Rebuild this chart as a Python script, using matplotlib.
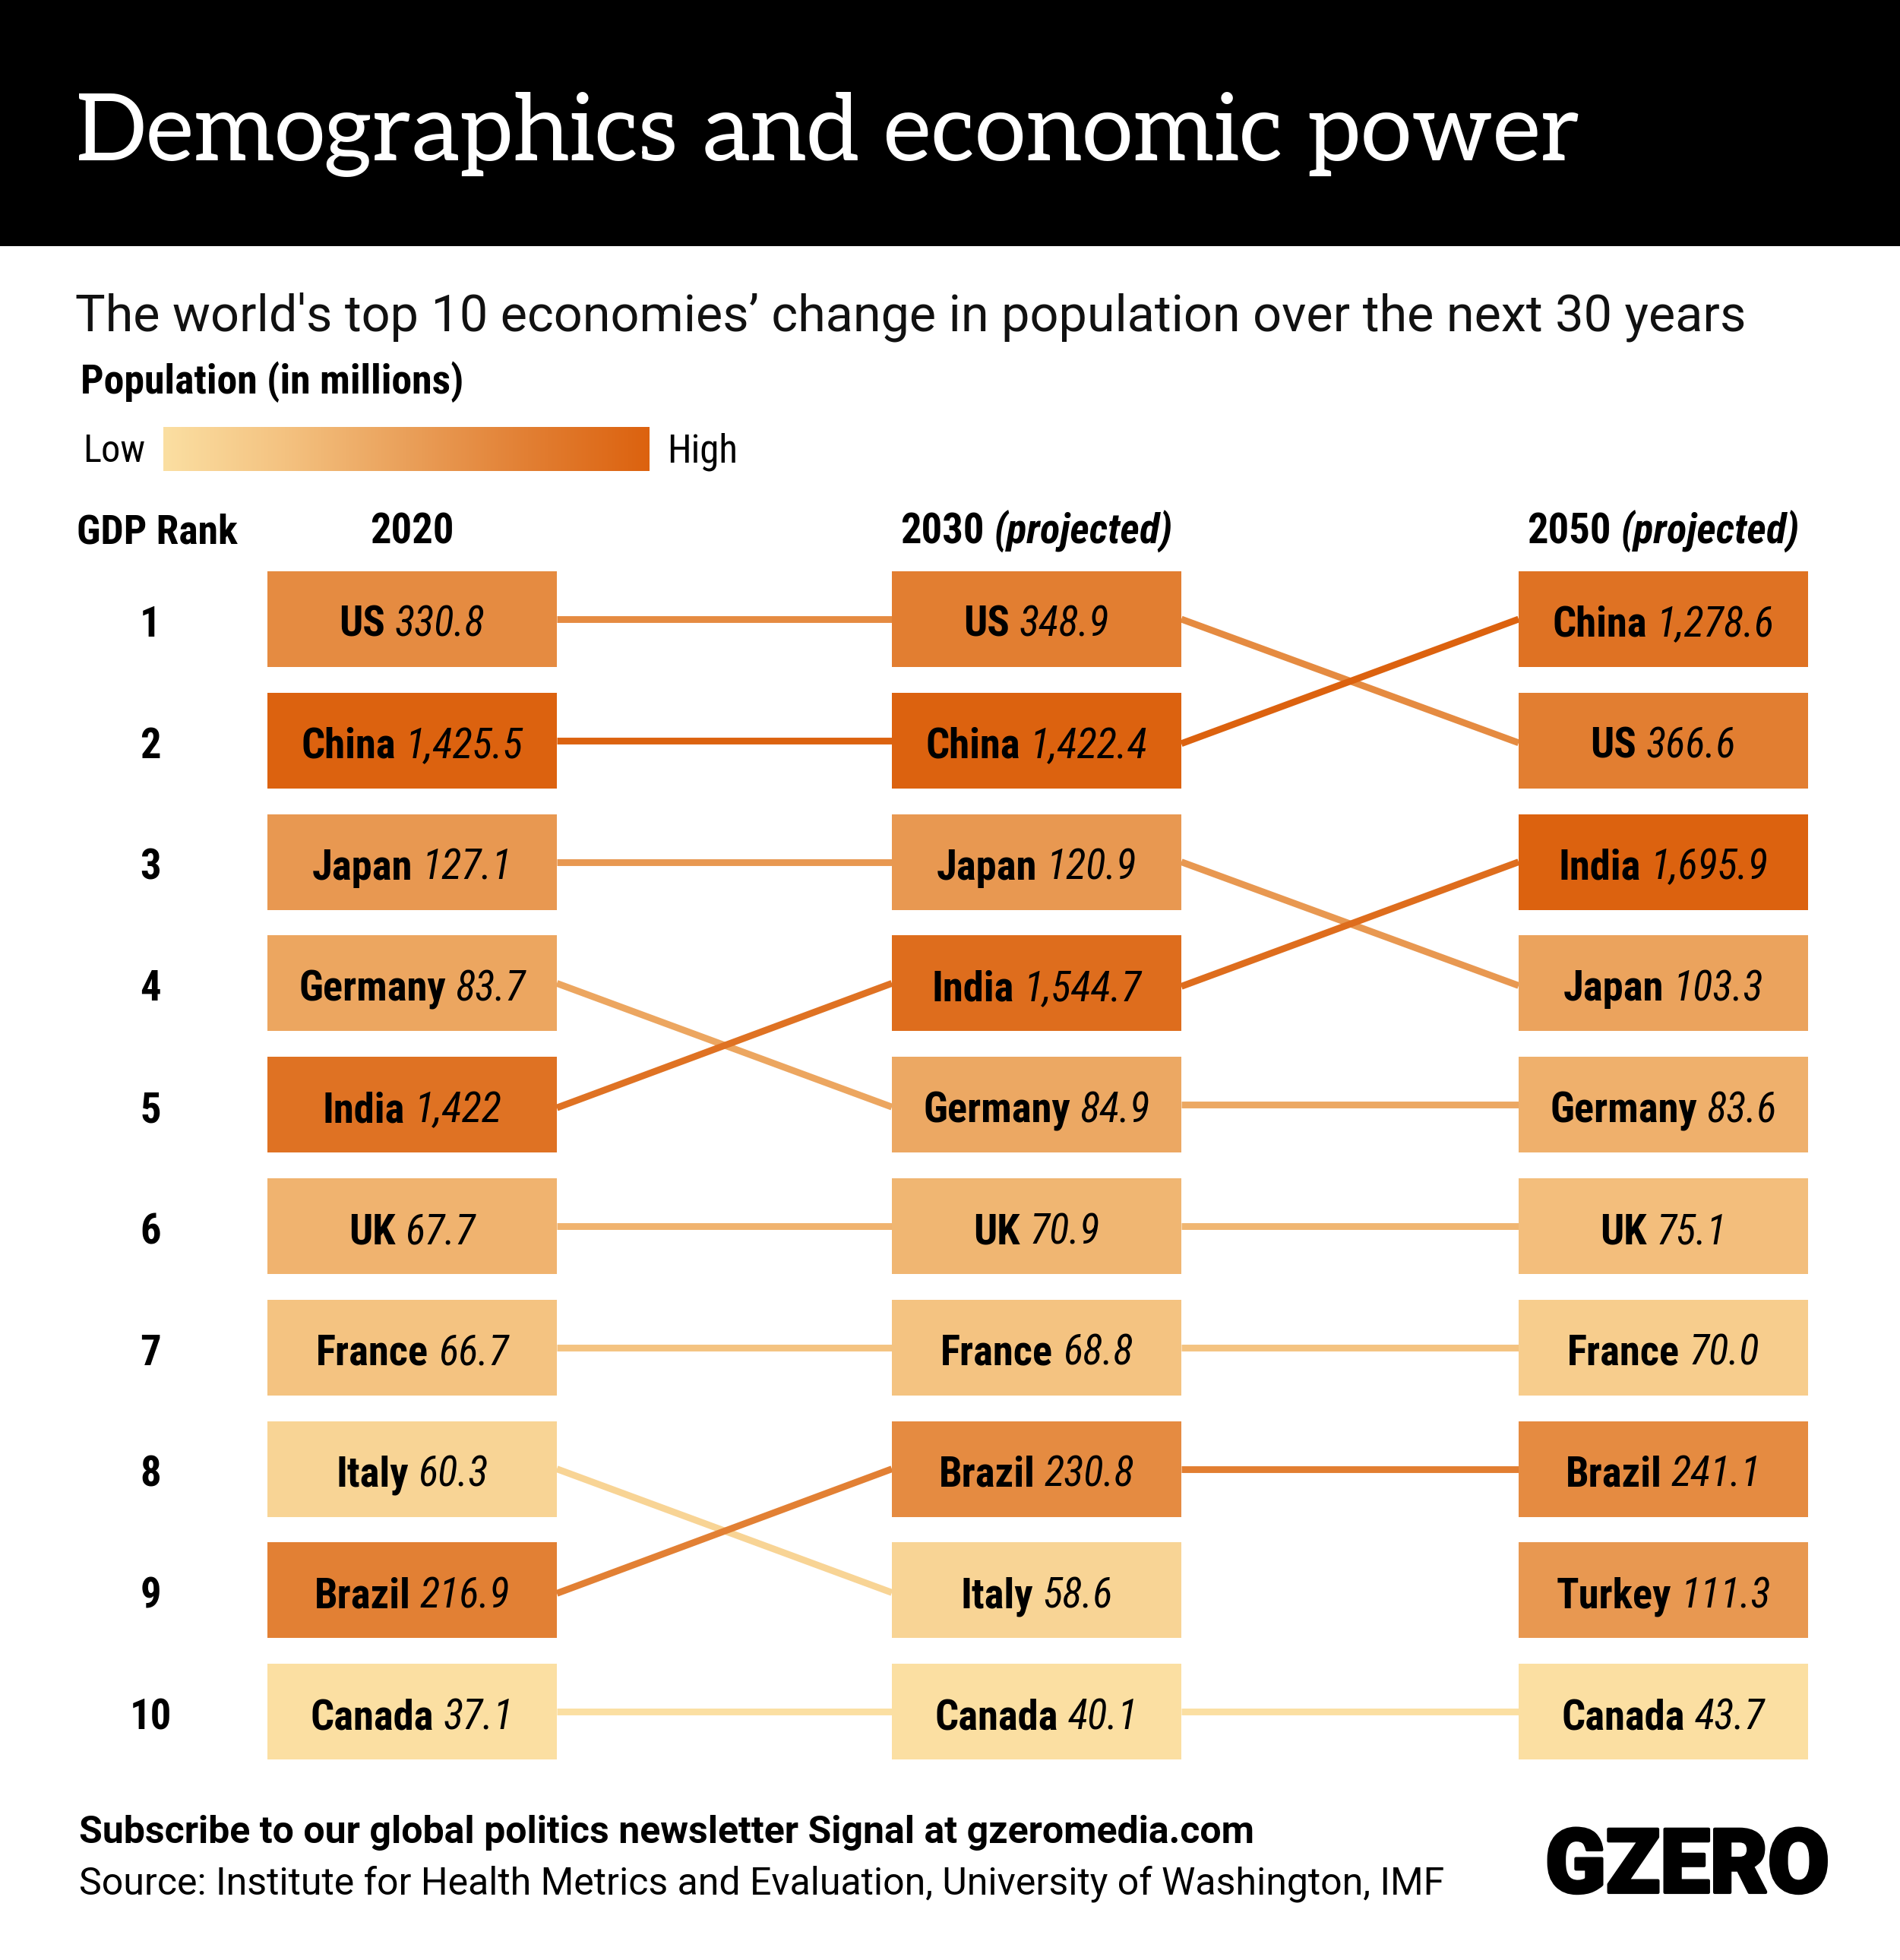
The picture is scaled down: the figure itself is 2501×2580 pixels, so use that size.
import matplotlib
matplotlib.use("Agg")
import matplotlib.pyplot as plt
from matplotlib import font_manager as fm
from matplotlib.colors import LinearSegmentedColormap
import matplotlib.patheffects as pe
import numpy as np

W, H = 2501, 2580
entries = fm.fontManager.ttflist
names = {f.name for f in entries}
NARROW = 'Roboto Condensed' if 'Roboto Condensed' in names else 'Roboto'
slabs = sorted(n for n in names if n.startswith('Roboto Slab')) + ['Aleo', 'Bitter', 'Zilla Slab', 'DejaVu Serif']
SERIF = next(n for n in slabs if n in names)

def has_bold(fam):
    return any(f.name == fam and f.weight in ('bold', 700) for f in entries)
FAKE_BOLD = not has_bold(NARROW)

ranks = list(range(1, 11))
years = ['2020', '2030', '2050']
year_notes = ['', '(projected)', '(projected)']
countries_2020 = ['US', 'China', 'Japan', 'Germany', 'India', 'UK', 'France', 'Italy', 'Brazil', 'Canada']
values_2020 = ['330.8', '1,425.5', '127.1', '83.7', '1,422', '67.7', '66.7', '60.3', '216.9', '37.1']
countries_2030 = ['US', 'China', 'Japan', 'India', 'Germany', 'UK', 'France', 'Brazil', 'Italy', 'Canada']
values_2030 = ['348.9', '1,422.4', '120.9', '1,544.7', '84.9', '70.9', '68.8', '230.8', '58.6', '40.1']
countries_2050 = ['China', 'US', 'India', 'Japan', 'Germany', 'UK', 'France', 'Brazil', 'Turkey', 'Canada']
values_2050 = ['1,278.6', '366.6', '1,695.9', '103.3', '83.6', '75.1', '70.0', '241.1', '111.3', '43.7']
shade_2020 = [6.6, 10, 5.6, 4.6, 8.6, 3.6, 2.4, 1, 7.4, 0]
shade_2030 = [7.6, 10, 5.6, 9, 4.4, 3.4, 2.4, 6.6, 1, 0]
shade_2050 = [8.6, 7.6, 10, 4.8, 3.8, 2.8, 1.6, 6.6, 5.6, 0]
link_shade_2020 = shade_2020
link_shade_2030 = [6.6, 10, 5.6, 9, 4.4, 3.4, 2.4, 7.6, 1, 0]

cmap = LinearSegmentedColormap.from_list('pop', ['#FBDFA2', '#F4C280', '#EAA05A', '#E27F33', '#DC620F'])
col_left = [352, 1174, 1999]
box_w = 381
row_top, pitch, box_h = 752, 159.8, 126

fig = plt.figure(figsize=(W / 100, H / 100), dpi=100, facecolor='white')
ax = fig.add_axes([0, 0, 1, 1])
ax.set_xlim(0, W); ax.set_ylim(H, 0); ax.axis('off')
r = fig.canvas.get_renderer()

def ypos(rank):
    return row_top + box_h / 2 + pitch * (rank - 1)

def embolden(t):
    if FAKE_BOLD:
        t.set_path_effects([pe.withStroke(linewidth=1.6, foreground='black')])

def fit(s, x, y, width, ha='left', **kw):
    t = ax.text(x, y, s, ha=ha, va='baseline', **kw)
    e = t.get_window_extent(r).width
    t.set_fontsize(t.get_fontsize() * width / e)
    return t

def label(name, val, cx, y, fs, bold_val=False):
    a = ax.text(0, y, name, family=NARROW, weight='bold', fontsize=fs, va='baseline')
    embolden(a)
    wa = a.get_window_extent(r).width + fs * 0.32
    if val:
        b = ax.text(0, y, val, family=NARROW, style='italic', weight='bold' if bold_val else 'normal',
                    fontsize=fs, va='baseline')
        if bold_val:
            embolden(b)
        wb = b.get_window_extent(r).width
    else:
        wa -= fs * 0.32
        wb = 0
    a.set_x(cx - (wa + wb) / 2)
    if val:
        b.set_x(cx - (wa + wb) / 2 + wa)

# header
ax.bar([W / 2], [324], width=W, bottom=0, color='black', lw=0)
fit('Demographics and economic power', 100, 211, 1980, family=SERIF, color='white', fontsize=70)
fit("The world's top 10 economies\u2019 change in population over the next 30 years", 99, 436, 2198,
    family='Roboto', fontsize=50, color='#111111')
embolden(fit('Population (in millions)', 106, 518, 506, family=NARROW, weight='bold', fontsize=38))

# legend
grad = np.linspace(0, 1, 256)[None, :]
ax.imshow(grad, cmap=cmap, extent=[215, 855, 620, 562], aspect='auto', zorder=2)
ax.set_xlim(0, W); ax.set_ylim(H, 0)
fit('Low', 109, 608, 82, family=NARROW, fontsize=36)
fit('High', 878, 608, 93, family=NARROW, fontsize=36)

# column heads
FS = 39.3
embolden(fit('GDP Rank', 101, 716, 212, family=NARROW, weight='bold', fontsize=FS))
for i, y in enumerate(years):
    label(y, year_notes[i], col_left[i] + box_w / 2, 716, FS, bold_val=True)

cols = [(countries_2020, values_2020, shade_2020),
        (countries_2030, values_2030, shade_2030),
        (countries_2050, values_2050, shade_2050)]
link_shades = [link_shade_2020, link_shade_2030]

# links: a line that changes rank meets the lower box a little under its centre
for i in range(2):
    c0 = cols[i][0]
    c1 = cols[i + 1][0]
    for j, name in enumerate(c0):
        if name in c1:
            k = c1.index(name)
            y0, y1 = ypos(ranks[j]), ypos(ranks[k])
            if k > j:
                y1 += 3
            elif k < j:
                y0 += 4
            ax.plot([col_left[i] + box_w, col_left[i + 1]], [y0, y1],
                    color=cmap(link_shades[i][j] / 10), lw=6.4, solid_capstyle='butt', zorder=1)

# boxes and labels
for i, (c, v, s) in enumerate(cols):
    colors = [cmap(x / 10) for x in s]
    ax.barh([ypos(q) for q in ranks], [box_w] * 10, left=col_left[i], height=box_h, color=colors, lw=0, zorder=3)
    for j, q in enumerate(ranks):
        label(c[j], v[j], col_left[i] + box_w / 2, ypos(q) + 23, FS)
for q in ranks:
    embolden(ax.text(198, ypos(q) + 23, str(q), family=NARROW, weight='bold', fontsize=FS, ha='center', va='baseline'))
for t in ax.texts:
    t.set_zorder(5)

# footer
fit('Subscribe to our global politics newsletter Signal at gzeromedia.com', 104, 2426, 1546,
    family='Roboto', weight='bold', fontsize=36)
fit('Source: Institute for Health Metrics and Evaluation, University of Washington, IMF', 104, 2494, 1796,
    family='Roboto', fontsize=36)
t = fit('GZERO', 2034, 2491, 374, family='Roboto', weight=900, fontsize=80, color='black')
t.set_path_effects([pe.withStroke(linewidth=3, foreground='black')])

fig.savefig('out.png', dpi=100, facecolor='white')
